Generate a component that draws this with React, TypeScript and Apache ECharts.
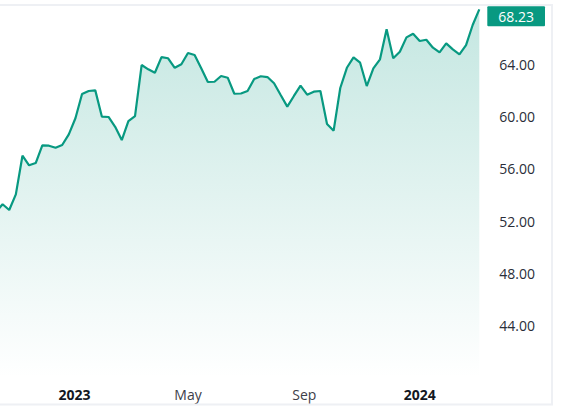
import React, { useEffect, useRef } from "react";
import * as echarts from "echarts";

// Weekly closes, Mondays, starting 2022-10-10 (first point lies just left of view)
const startDate = Date.UTC(2022, 9, 10);
const weekMs = 7 * 24 * 3600 * 1000;
const closes: number[] = [
  52.7, 53.29, 52.85, 54.05, 57.01, 56.28, 56.45, 57.81, 57.78, 57.62,
  57.83, 58.65, 59.88, 61.74, 61.97, 62.02, 60.0, 59.98, 59.23, 58.21,
  59.67, 60.05, 63.96, 63.63, 63.37, 64.57, 64.48, 63.75, 64.02, 64.88,
  64.73, 63.71, 62.66, 62.68, 63.12, 62.99, 61.76, 61.78, 61.97, 62.89,
  63.1, 63.04, 62.56, 61.66, 60.77, 61.59, 62.38, 61.69, 61.92, 61.97,
  59.44, 58.93, 62.2, 63.75, 64.55, 64.14, 62.35, 63.71, 64.4, 66.7,
  64.48, 64.98, 66.08, 66.36, 65.8, 65.9, 65.29, 64.93, 65.62, 65.16,
  64.78, 65.49, 67.03, 68.23,
];
const xLabelDates: number[] = [
  Date.UTC(2023, 0, 1),
  Date.UTC(2023, 4, 1),
  Date.UTC(2023, 8, 1),
  Date.UTC(2024, 0, 1),
];
const monthNames = ["Jan", "Feb", "Mar", "Apr", "May", "Jun", "Jul", "Aug", "Sep", "Oct", "Nov", "Dec"];
const yTicks: number[] = [44, 48, 52, 56, 60, 64];

const GREEN = "#089981";
const FONT = "'Open Sans', 'Noto Sans', sans-serif";

export default function App() {
  const ref = useRef<HTMLDivElement>(null);
  useEffect(() => {
    if (!ref.current) return;
    const chart = echarts.init(ref.current, undefined, { renderer: "svg" });
    const data = closes.map((v, i) => [startDate + i * weekMs, v]);
    chart.setOption({
      animation: false,
      backgroundColor: "#ffffff",
      grid: { left: 0, right: 85.7, top: 5.8, bottom: 35.3, containLabel: false },
      xAxis: {
        type: "value",
        min: Date.UTC(2022, 9, 14, 6),
        max: Date.UTC(2024, 2, 4),
        axisLine: { show: false },
        axisTick: { show: false },
        splitLine: { show: false },
        axisLabel: {
          customValues: xLabelDates,
          margin: 10,
          fontFamily: FONT,
          fontSize: 14,
          color: "#3d4049",
          formatter: (v: number) => {
            const d = new Date(v);
            if (d.getUTCMonth() === 0) return "{b|" + d.getUTCFullYear() + "}";
            return monthNames[d.getUTCMonth()];
          },
          rich: {
            b: { fontWeight: "bold", fontFamily: FONT, fontSize: 14, color: "#131722" },
          },
        },
      },
      yAxis: {
        type: "value",
        position: "right",
        min: 40,
        max: 68.5,
        interval: 4,
        axisLine: { show: false },
        axisTick: { show: false },
        splitLine: { show: false },
        axisLabel: {
          margin: 20,
          fontFamily: FONT,
          fontSize: 14,
          color: "#2a2e39",
          formatter: (v: number) => (yTicks.indexOf(v) >= 0 ? v.toFixed(2) : ""),
        },
      },
      graphic: [
        {
          type: "rect",
          silent: true,
          z: 100,
          shape: { x: -10, y: 5, width: 562, height: 399.5 },
          style: { fill: "none", stroke: "#eef0f4", lineWidth: 2 },
        },
      ],
      series: [
        {
          type: "line",
          data,
          symbol: "none",
          lineStyle: { color: GREEN, width: 2.2 },
          itemStyle: { color: GREEN },
          areaStyle: {
            color: new echarts.graphic.LinearGradient(0, 0, 0, 1, [
              { offset: 0, color: "rgba(8,153,129,0.34)" },
              { offset: 1, color: "rgba(8,153,129,0)" },
            ]),
          },
          endLabel: {
            show: true,
            distance: 8,
            offset: [0, 7],
            formatter: (p: any) => p.value[1].toFixed(2),
            backgroundColor: GREEN,
            color: "#ffffff",
            fontFamily: FONT,
            fontSize: 14,
            lineHeight: 14,
            padding: [3, 11, 3, 11],
            borderRadius: 1,
          },
        },
      ],
    });
    return () => chart.dispose();
  }, []);
  return (
    <div
      ref={ref}
      style={{ position: "fixed", left: 0, top: 0, width: 565, height: 413 }}
    />
  );
}
